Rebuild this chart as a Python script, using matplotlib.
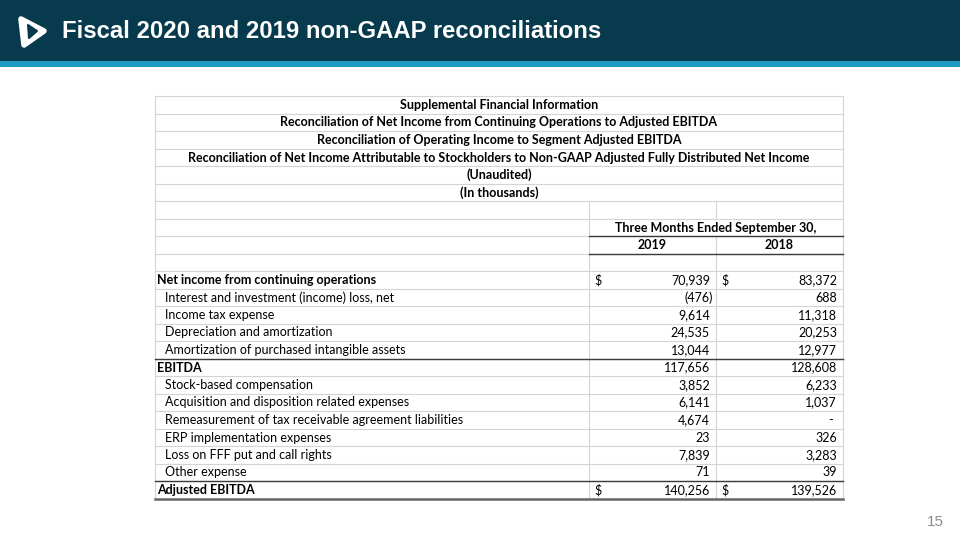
import matplotlib.pyplot as plt
from matplotlib.patches import Rectangle, Polygon

# Table contents
title = "Fiscal 2020 and 2019 non-GAAP reconciliations"
header_lines = [
    "Supplemental Financial Information",
    "Reconciliation of Net Income from Continuing Operations to Adjusted EBITDA",
    "Reconciliation of Operating Income to Segment Adjusted EBITDA",
    "Reconciliation of Net Income Attributable to Stockholders to Non-GAAP Adjusted Fully Distributed Net Income",
    "(Unaudited)",
    "(In thousands)",
]
period = "Three Months Ended September 30,"
years = ["2019", "2018"]
labels = [
    "Net income from continuing operations",
    "Interest and investment (income) loss, net",
    "Income tax expense",
    "Depreciation and amortization",
    "Amortization of purchased intangible assets",
    "EBITDA",
    "Stock-based compensation",
    "Acquisition and disposition related expenses",
    "Remeasurement of tax receivable agreement liabilities",
    "ERP implementation expenses",
    "Loss on FFF put and call rights",
    "Other expense",
    "Adjusted EBITDA",
]
v2019 = [70939, -476, 9614, 24535, 13044, 117656, 3852, 6141, 4674, 23, 7839, 71, 140256]
v2018 = [83372, 688, 11318, 20253, 12977, 128608, 6233, 1037, 0, 326, 3283, 39, 139526]
bold_rows = [0, 5, 12]
dollar_rows = [0, 12]

HEAD = "#063a4c"
STRIP = "#1b9bc1"
GRID = "#d4d4d4"
DARK = "#3a3a3a"
TFONT = "Lato"

fig = plt.figure(figsize=(9.6, 5.4), dpi=100)
ax = fig.add_axes([0, 0, 1, 1])
ax.set_xlim(0, 960)
ax.set_ylim(540, 0)
ax.axis("off")

# Header band
ax.add_patch(Rectangle((0, 0), 960, 61, color=HEAD, lw=0))
ax.add_patch(Rectangle((0, 61), 960, 5.5, color=STRIP, lw=0))
ax.add_patch(Polygon([(21, 19), (44, 31), (24, 45)], closed=True,
                     facecolor="white", edgecolor="white", lw=4, joinstyle="round"))
ax.add_patch(Polygon([(28, 25), (37, 31), (29, 38)], closed=True,
                     facecolor=HEAD, edgecolor=HEAD, lw=1.5, joinstyle="round"))
ax.text(62, 32, title, color="white", fontsize=17.2, fontweight="bold",
        family="Liberation Sans", va="center", ha="left")
ax.text(944, 522, "15", color="#8c8c8c", fontsize=11, family="Liberation Sans",
        ha="right", va="center")

# Table geometry
x0, x1, x2, x3 = 155, 589, 716, 843
top, rh = 96.25, 17.5
n_rows = 10 + len(labels)

def row_y(i):
    return top + i * rh + rh / 2

# light grid
for i in range(n_rows + 1):
    y = top + i * rh
    ax.plot([x0, x3], [y, y], color=GRID, lw=0.8, zorder=1)
ax.plot([x0, x0], [top, top + n_rows * rh], color=GRID, lw=0.8, zorder=1)
ax.plot([x3, x3], [top, top + n_rows * rh], color=GRID, lw=0.8, zorder=1)
ax.plot([x1, x1], [top + 6 * rh, top + n_rows * rh], color=GRID, lw=0.8, zorder=1)
ax.plot([x2, x2], [top + 8 * rh, top + n_rows * rh], color=GRID, lw=0.8, zorder=1)
ax.plot([x2, x2], [top + 6 * rh, top + 7 * rh], color=GRID, lw=0.8, zorder=1)

# dark rules
ax.plot([x1, x3], [top + 8 * rh] * 2, color=DARK, lw=1.0, zorder=2)
ax.plot([x1, x3], [top + 9 * rh] * 2, color=DARK, lw=1.0, zorder=2)
ax.plot([x0, x3], [top + 15 * rh] * 2, color=DARK, lw=1.0, zorder=2)
ax.plot([x0, x3], [top + 22 * rh] * 2, color=DARK, lw=1.0, zorder=2)
ax.plot([x0, x3], [top + 23 * rh] * 2, color="#666666", lw=1.8, zorder=2)

fs = 9
for i, line in enumerate(header_lines):
    ax.text((x0 + x3) / 2, row_y(i), line, fontsize=fs, fontweight="bold",
            family=TFONT, ha="center", va="center")
ax.text((x1 + x3) / 2, row_y(7), period, fontsize=fs, fontweight="bold",
        family=TFONT, ha="center", va="center")
ax.text((x1 + x2) / 2, row_y(8), years[0], fontsize=fs, fontweight="bold",
        family=TFONT, ha="center", va="center")
ax.text((x2 + x3) / 2, row_y(8), years[1], fontsize=fs, fontweight="bold",
        family=TFONT, ha="center", va="center")

def fmt(v):
    if v == 0:
        return "-"
    if v < 0:
        return "({:,})".format(-v)
    return "{:,}".format(v)

for k, lab in enumerate(labels):
    y = row_y(10 + k)
    bold = k in bold_rows
    ax.text(x0 + (2 if bold else 10), y, lab, fontsize=fs,
            fontweight="bold" if bold else "normal", family=TFONT,
            ha="left", va="center")
    for val, xl, xr in [(v2019[k], x1, x2), (v2018[k], x2, x3)]:
        s = fmt(val)
        off = 3 if s.startswith("(") else (10 if s == "-" else 6)
        ax.text(xr - off, y, s, fontsize=fs, family=TFONT, ha="right", va="center")
        if k in dollar_rows:
            ax.text(xl + 5, y, "$", fontsize=fs, family=TFONT, ha="left", va="center")

fig.savefig("out.png", dpi=100)
